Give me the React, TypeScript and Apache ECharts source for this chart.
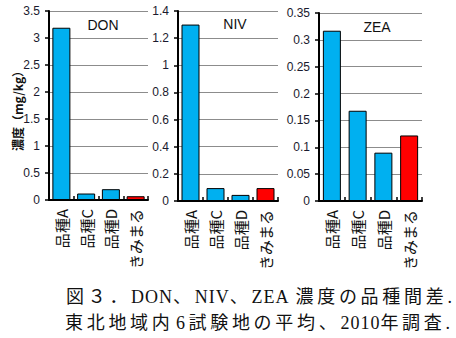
import React, { useEffect, useRef } from "react";
import * as echarts from "echarts";

const categories = ["品種A", "品種C", "品種D", "きみまる"];
const donValues = [3.19, 0.12, 0.2, 0.07];
const nivValues = [1.3, 0.095, 0.045, 0.095];
const zeaValues = [0.317, 0.168, 0.09, 0.122];
const panelTitles = ["DON", "NIV", "ZEA"];
const yMax = [3.5, 1.4, 0.35];
const yInterval = [0.5, 0.2, 0.05];
const barColors = ["#00B0F0", "#00B0F0", "#00B0F0", "#FF0000"];
const yAxisName = "濃度（mg/kg）";
const captionLines = ["図３．DON、NIV、ZEA 濃度の品種間差.", "東北地域内 6 試験地の平均、2010年調査."];

const grids = [
  { left: 49, top: 11, width: 99, height: 189 },
  { left: 178, top: 11, width: 100, height: 190 },
  { left: 319, top: 13, width: 103, height: 188 },
];

const CAPTION_FONT = '18px "Liberation Serif", "Noto Sans CJK JP", serif';

function layoutCaption(line: string, x0: number, y: number, spaceW: number) {
  const canvas = document.createElement("canvas");
  const ctx = canvas.getContext("2d")!;
  ctx.font = CAPTION_FONT;
  const out: any[] = [];
  let x = x0;
  for (const ch of Array.from(line)) {
    const wide = ch.charCodeAt(0) > 0x2fff;
    const w = ch === " " ? spaceW : ctx.measureText(ch).width;
    if (ch !== " ") {
      out.push({
        type: "text",
        x,
        y,
        style: {
          text: ch,
          font: CAPTION_FONT,
          fill: "#111",
          textAlign: "left",
          textVerticalAlign: "middle",
        },
      });
    }
    x += w + (wide ? 3.7 : 1);
  }
  return out;
}

export default function App() {
  const ref = useRef<HTMLDivElement>(null);
  useEffect(() => {
    if (!ref.current) return;
    const chart = echarts.init(ref.current, null, { renderer: "svg" });
    const seriesData = [donValues, nivValues, zeaValues];
    const fmt = (v: number) => String(+v.toFixed(2));
    chart.setOption({
      animation: false,
      grid: grids.map((g) => ({ ...g, containLabel: false })),
      xAxis: grids.map((_, i) => ({
        type: "category",
        gridIndex: i,
        data: categories,
        axisLine: { lineStyle: { color: "#000", width: 2 } },
        axisTick: { show: true, inside: true, length: 4, lineStyle: { color: "#000", width: 1.5 } },
        axisLabel: {
          rotate: 90,
          color: "#111",
          fontSize: 15,
          fontFamily: "Noto Sans CJK JP",
          margin: 9,
          interval: 0,
        },
      })),
      yAxis: grids.map((_, i) => ({
        type: "value",
        gridIndex: i,
        min: 0,
        max: yMax[i],
        interval: yInterval[i],
        axisLine: { show: true, lineStyle: { color: "#000", width: 2 } },
        axisTick: { show: true, length: 4, lineStyle: { color: "#000", width: 1.5 } },
        axisLabel: {
          color: "#1a1a2e",
          fontSize: 12,
          fontFamily: "Liberation Sans, Noto Sans",
          margin: 9,
          formatter: fmt,
        },
        splitLine: { show: true, lineStyle: { color: "#8c8c8c", width: 1 } },
      })),
      series: seriesData.map((d, i) => ({
        type: "bar",
        xAxisIndex: i,
        yAxisIndex: i,
        barWidth: 18,
        data: d.map((v, j) => ({
          value: v,
          itemStyle: { color: barColors[j], borderColor: "#000", borderWidth: 1 },
        })),
      })),
      graphic: [
        ...panelTitles.map((t, i) => ({
          type: "text",
          x: [103, 235, 377][i],
          y: [25, 24, 27][i],
          style: {
            text: t,
            fontSize: 14,
            fontFamily: "Liberation Sans, Noto Sans",
            fill: "#111",
            textAlign: "center",
            textVerticalAlign: "middle",
          },
        })),
        {
          type: "text",
          x: 17,
          y: 108,
          rotation: Math.PI / 2,
          style: {
            text: yAxisName,
            fontSize: 12,
            fontWeight: "bold",
            fontFamily: "Noto Sans CJK JP",
            fill: "#111",
            textAlign: "center",
            textVerticalAlign: "middle",
          },
        },
        ...layoutCaption(captionLines[0], 66, 297, 5),
        ...layoutCaption(captionLines[1], 65, 323, 1.5),
      ],
    });
    return () => chart.dispose();
  }, []);
  return <div ref={ref} style={{ width: 456, height: 338, position: "absolute", left: 0, top: 0, background: "#fff" }} />;
}
